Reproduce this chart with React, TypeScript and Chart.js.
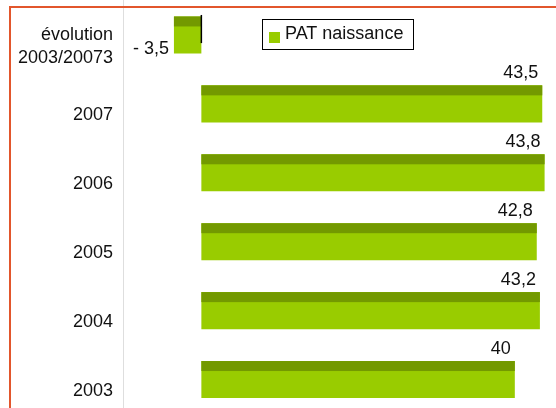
import React, { useEffect, useRef } from 'react';
import { Chart, registerables } from 'chart.js';

Chart.register(...registerables);

const categories: (string | string[])[] = [['évolution', '2003/20073'], '2007', '2006', '2005', '2004', '2003'];
const values: number[] = [-3.5, 43.5, 43.8, 42.8, 43.2, 40];
const seriesName = 'PAT naissance';
const xMin = -10;
const xMax = 45;

const FONT = '"Liberation Sans", Arial, sans-serif';
const LIGHT = '#99CC00';
const DARK = '#739900';
const TEXT = '#111111';

const fmt = (v: number) => (v < 0 ? '- ' : '') + String(Math.abs(v)).replace('.', ',');

const deco = {
  id: 'deco',
  afterDatasetsDraw(chart: any) {
    const ctx = chart.ctx;
    const meta = chart.getDatasetMeta(0);
    ctx.save();
    ctx.font = `18px ${FONT}`;
    ctx.textBaseline = 'middle';
    meta.data.forEach((el: any, i: number) => {
      const { x, y, base, height } = el.getProps(['x', 'y', 'base', 'height'], true);
      const top = y - height / 2;
      const bottom = y + height / 2;
      const left = Math.min(x, base);
      const w = Math.abs(x - base);
      ctx.fillStyle = DARK;
      ctx.fillRect(left, top, w, height * 0.27);
      const v = values[i];
      ctx.fillStyle = TEXT;
      ctx.textAlign = 'right';
      if (v < 0) {
        ctx.fillText(fmt(v), x - 5, bottom - 4);
        ctx.strokeStyle = '#000';
        ctx.lineWidth = 1.5;
        ctx.beginPath();
        ctx.moveTo(base, top - 1.5);
        ctx.lineTo(base, top + height * 0.72);
        ctx.stroke();
      } else {
        ctx.fillText(fmt(v), x - 4, top - 12.5);
      }
    });
    ctx.restore();
  },
  afterDraw(chart: any) {
    const ctx = chart.ctx;
    ctx.save();
    // frame
    ctx.strokeStyle = '#E2562C';
    ctx.lineWidth = 2;
    ctx.beginPath();
    ctx.moveTo(10, chart.height);
    ctx.lineTo(10, 7);
    ctx.lineTo(chart.width, 7);
    ctx.stroke();
    // legend
    ctx.strokeStyle = '#000';
    ctx.lineWidth = 1;
    ctx.fillStyle = '#fff';
    ctx.fillRect(262.5, 19.5, 151, 30);
    ctx.strokeRect(262.5, 19.5, 151, 30);
    ctx.fillStyle = LIGHT;
    ctx.fillRect(269, 32, 11, 11);
    ctx.fillStyle = TEXT;
    ctx.font = `18px ${FONT}`;
    ctx.textAlign = 'left';
    ctx.textBaseline = 'middle';
    ctx.fillText(chart.data.datasets[0].label, 285, 34);
    ctx.restore();
  },
};

export default function App() {
  const ref = useRef<HTMLCanvasElement | null>(null);
  useEffect(() => {
    if (!ref.current) return;
    const chart = new Chart(ref.current, {
      type: 'bar',
      data: {
        labels: categories as any,
        datasets: [
          {
            label: seriesName,
            data: values,
            backgroundColor: LIGHT,
            borderWidth: 0,
            barPercentage: 0.537,
            categoryPercentage: 1,
          },
        ],
      },
      options: {
        animation: false,
        responsive: false,
        indexAxis: 'y',
        layout: { padding: { top: 0.5, bottom: 0, left: 0, right: 2 } },
        plugins: { legend: { display: false }, tooltip: { enabled: false } },
        scales: {
          x: { display: false, min: xMin, max: xMax },
          y: {
            afterFit: (s: any) => {
              s.width = 123;
              s.paddingTop = 0;
              s.paddingBottom = 0;
            },
            grid: { display: false, drawTicks: false },
            border: { display: true, color: '#dedede', width: 1 },
            ticks: {
              padding: 10,
              labelOffset: 11.5,
              color: TEXT,
              font: { family: FONT, size: 18, lineHeight: 1.28 },
            },
          },
        },
      },
      plugins: [deco],
    } as any);
    return () => chart.destroy();
  }, []);
  return (
    <div style={{ position: 'fixed', left: 0, top: 0, width: 556, height: 408, background: '#fff', overflow: 'hidden' }}>
      <canvas ref={ref} width={556} height={414} style={{ display: 'block' }} />
    </div>
  );
}
